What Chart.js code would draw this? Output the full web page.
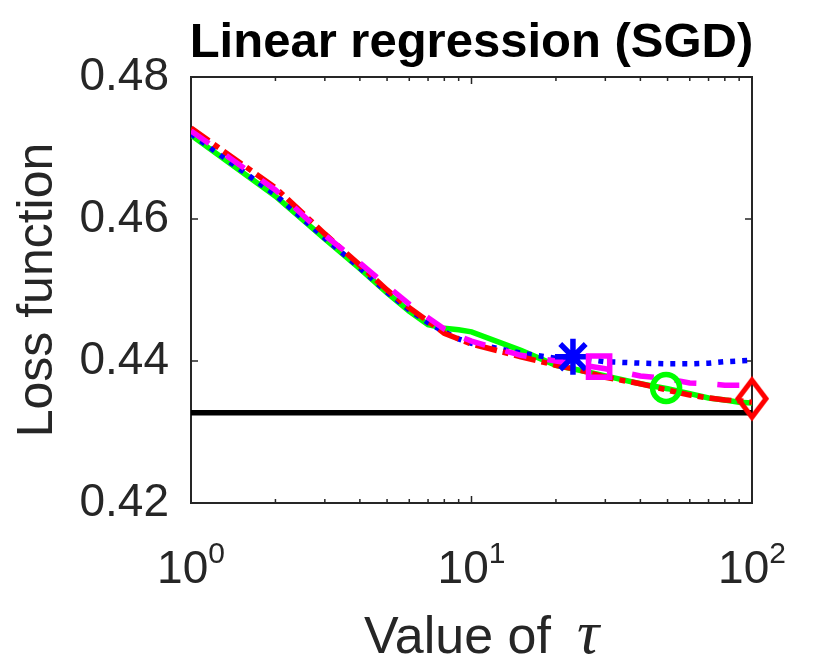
<!DOCTYPE html>
<html>
<head>
<meta charset="utf-8">
<script src="https://cdn.jsdelivr.net/npm/chart.js@4.4.1/dist/chart.umd.min.js"></script>
<style>
html,body{margin:0;padding:0;background:#ffffff;}
#wrap{width:830px;height:664px;}
</style>
</head>
<body>
<div id="wrap"><canvas id="c" width="830" height="664"></canvas></div>
<script>
// ---- data ----
const tau = [1, 2, 3, 4, 5, 6, 7, 8, 9, 10, 15, 20, 25, 30, 40, 50, 60, 70, 80, 90, 100];
const lossGreen   = [0.4718, 0.4632, 0.4572, 0.4530, 0.4496, 0.4470, 0.4451, 0.4446, 0.4444, 0.4441, 0.4415, 0.4394, 0.4386, 0.4379, 0.4368, 0.4361, 0.4354, 0.4348, 0.4345, 0.4342, 0.4341];
const lossBlue    = [0.4720, 0.4634, 0.4573, 0.4531, 0.4497, 0.4472, 0.4454, 0.4441, 0.4431, 0.4425, 0.4411, 0.4404, 0.4403, 0.4399, 0.4397, 0.4396, 0.4396, 0.4397, 0.4399, 0.4400, 0.4401];
const lossMagenta = [0.4724, 0.4641, 0.4577, 0.4538, 0.4506, 0.4480, 0.4461, 0.4445, 0.4435, 0.4428, 0.4408, 0.4400, 0.4394, 0.4389, 0.4379, 0.4375, 0.4369, 0.4368, 0.4366, 0.4366, 0.4366];
const lossRed     = [0.4728, 0.4644, 0.4579, 0.4535, 0.4500, 0.4475, 0.4456, 0.4439, 0.4431, 0.4424, 0.4406, 0.4394, 0.4386, 0.4377, 0.4368, 0.4359, 0.4352, 0.4348, 0.4345, 0.4344, 0.4342];
const baselineTau  = [1, 100];
const baselineLoss = [0.4327, 0.4327];
// best points: blue, magenta, green, red
const bestTau  = [23.0, 28.5, 49.4, 100];
const bestLoss = [0.4406, 0.4392, 0.4362, 0.4347];
const yTickValues = [0.42, 0.44, 0.46, 0.48];
const xDecadeExp = [0, 1, 2];
const xMinorTicks = [2, 3, 4, 5, 6, 7, 8, 9, 20, 30, 40, 50, 60, 70, 80, 90];
const titleText = 'Linear regression (SGD)';
const xTitleWords = 'Value of';
const xTitleSymbol = 'τ';
const yTitle = 'Loss function';

// ---- styling ----
const ink = '#262626';
const fam = '"Liberation Sans", Arial, Helvetica, sans-serif';
const mathFam = '"Liberation Serif", "DejaVu Serif", serif';
Chart.defaults.font.family = fam;
Chart.defaults.color = ink;

function pts(xs, ys) { return xs.map((x, i) => ({x: x, y: ys[i]})); }

function diamondImage() {
  const c = document.createElement('canvas');
  c.width = 46; c.height = 54;
  const g = c.getContext('2d');
  g.strokeStyle = '#ff0000';
  g.lineWidth = 5;
  g.lineJoin = 'miter';
  g.beginPath();
  g.moveTo(23, 27 - 18.5);
  g.lineTo(23 + 14, 27);
  g.lineTo(23, 27 + 18.5);
  g.lineTo(23 - 14, 27);
  g.closePath();
  g.stroke();
  return c;
}

function lineSet(label, ys, color, dash, order) {
  return {
    label: label, data: pts(tau, ys), borderColor: color, backgroundColor: color,
    borderWidth: 5.5, borderDash: dash, pointRadius: 0, tension: 0, fill: false,
    order: order, borderCapStyle: 'butt'
  };
}
function markerSet(label, i, style, color, radius, order) {
  return {
    label: label, data: pts([bestTau[i]], [bestLoss[i]]), showLine: false,
    pointStyle: style, pointRadius: radius, pointBorderColor: color,
    pointBackgroundColor: 'rgba(0,0,0,0)', pointBorderWidth: 5.5,
    order: order, clip: false
  };
}

const frame = {
  id: 'frame',
  beforeDatasetsDraw(chart) {
    const ctx = chart.ctx, a = chart.chartArea;
    const xs = chart.scales.x, ys = chart.scales.y;
    ctx.save();
    ctx.strokeStyle = ink;
    ctx.lineWidth = 2;
    ctx.strokeRect(a.left, a.top, a.right - a.left, a.bottom - a.top);
    ctx.lineWidth = 1.5;
    ctx.beginPath();
    yTickValues.forEach(v => {
      const y = ys.getPixelForValue(v);
      ctx.moveTo(a.left, y); ctx.lineTo(a.left + 7, y);
      ctx.moveTo(a.right, y); ctx.lineTo(a.right - 7, y);
    });
    xDecadeExp.forEach(e => {
      const x = xs.getPixelForValue(Math.pow(10, e));
      ctx.moveTo(x, a.bottom); ctx.lineTo(x, a.bottom - 7);
      ctx.moveTo(x, a.top); ctx.lineTo(x, a.top + 7);
    });
    xMinorTicks.forEach(v => {
      const x = xs.getPixelForValue(v);
      ctx.moveTo(x, a.bottom); ctx.lineTo(x, a.bottom - 4);
      ctx.moveTo(x, a.top); ctx.lineTo(x, a.top + 4);
    });
    ctx.stroke();
    ctx.restore();
  },
  afterDraw(chart) {
    const ctx = chart.ctx, a = chart.chartArea;
    const xs = chart.scales.x;
    ctx.save();
    // title
    ctx.fillStyle = '#000000';
    ctx.font = 'bold 49px ' + fam;
    ctx.textAlign = 'center';
    ctx.textBaseline = 'alphabetic';
    ctx.fillText(titleText, (a.left + a.right) / 2, 57);
    // x tick labels 10^e
    ctx.fillStyle = ink;
    ctx.textAlign = 'left';
    xDecadeExp.forEach(e => {
      const x = xs.getPixelForValue(Math.pow(10, e));
      ctx.font = '46px ' + fam;
      const w1 = ctx.measureText('10').width;
      ctx.font = '30px ' + fam;
      const w2 = ctx.measureText(String(e)).width;
      const start = x - (w1 + w2) / 2;
      ctx.font = '46px ' + fam;
      ctx.fillText('10', start, 583);
      ctx.font = '30px ' + fam;
      ctx.fillText(String(e), start + w1, 563);
    });
    // x axis title with italic math symbol
    ctx.font = '52px ' + fam;
    const wWords = ctx.measureText(xTitleWords).width;
    const gap = 26;
    ctx.font = 'italic 62px ' + mathFam;
    const wSym = ctx.measureText(xTitleSymbol).width;
    const start = (a.left + a.right) / 2 - (wWords + gap + wSym) / 2 + 10;
    ctx.font = '52px ' + fam;
    ctx.fillText(xTitleWords, start, 653);
    ctx.font = 'italic 62px ' + mathFam;
    ctx.fillText(xTitleSymbol, start + wWords + gap, 653);
    ctx.restore();
  }
};

new Chart(document.getElementById('c'), {
  type: 'line',
  data: {
    datasets: [
      markerSet('best red', 3, diamondImage(), '#ff0000', 20, 0),
      markerSet('best green', 2, 'circle', '#00ff00', 13.5, 1),
      markerSet('best magenta', 1, 'rect', '#ff00ff', 15, 2),
      markerSet('best blue', 0, 'star', '#0000ff', 18, 3),
      lineSet('magenta', lossMagenta, '#ff00ff', [22, 21], 4),
      lineSet('red', lossRed, '#ff0000', [22, 6, 6, 6], 5),
      lineSet('blue', lossBlue, '#0000ff', [5, 7], 6),
      lineSet('green', lossGreen, '#00ff00', [], 7),
      {
        label: 'baseline', data: pts(baselineTau, baselineLoss), borderColor: '#000000',
        borderWidth: 5.5, pointRadius: 0, tension: 0, fill: false, order: 8
      }
    ]
  },
  options: {
    responsive: false,
    devicePixelRatio: 1,
    animation: false,
    layout: { padding: { top: 77, right: 78, left: 0, bottom: 0 } },
    plugins: { legend: { display: false }, title: { display: false }, tooltip: { enabled: false } },
    scales: {
      x: {
        type: 'logarithmic', min: 1, max: 100,
        grid: { display: false, drawTicks: false },
        border: { display: false },
        ticks: { display: false },
        title: { display: false },
        afterFit(s) { s.height = 161; }
      },
      y: {
        type: 'linear', min: 0.42, max: 0.48,
        grid: { display: false, drawTicks: false },
        border: { display: false },
        ticks: { stepSize: 0.02, padding: 22, color: ink, font: { size: 46 }, callback: v => Number(v).toFixed(2) },
        title: { display: true, text: yTitle, color: ink, font: { size: 50, lineHeight: 1 }, padding: { top: 13, bottom: 0 } },
        afterFit(s) { s.width = 191; }
      }
    }
  },
  plugins: [frame]
});
</script>
</body>
</html>
